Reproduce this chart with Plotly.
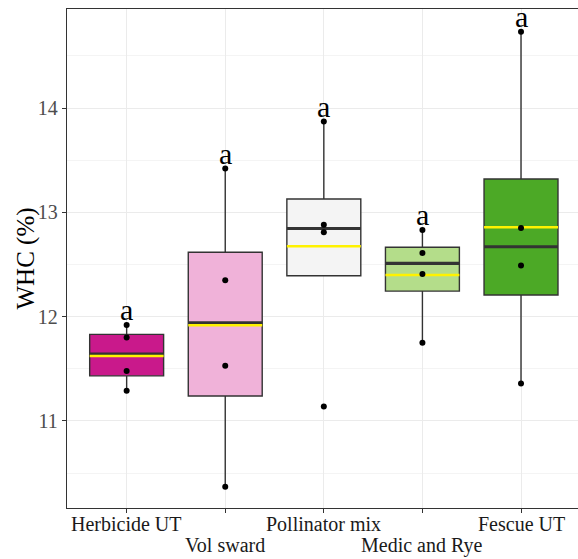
import numpy as np
import plotly.graph_objects as go

categories = ["Herbicide UT", "Vol sward", "Pollinator mix", "Medic and Rye", "Fescue UT"]
herbicide_ut = [11.29, 11.48, 11.80, 11.92]
vol_sward = [10.37, 11.53, 12.35, 13.42]
pollinator_mix = [11.14, 12.81, 12.88, 13.87]
medic_and_rye = [11.75, 12.41, 12.61, 12.83]
fescue_ut = [11.36, 12.49, 12.85, 14.73]
letters = ["a", "a", "a", "a", "a"]
fill_colors = ["#C9198B", "#F0B2D9", "#F4F4F4", "#B4DD8A", "#4CA926"]

series = [herbicide_ut, vol_sward, pollinator_mix, medic_and_rye, fescue_ut]

SERIF = "Liberation Serif, Times New Roman, serif"
HALF = 0.375

fig = go.Figure()

for i, (vals, col) in enumerate(zip(series, fill_colors)):
    v = np.array(vals)
    q1, med, q3 = np.percentile(v, [25, 50, 75])
    iqr = q3 - q1
    up = v[v <= q3 + 1.5 * iqr].max()
    lo = v[v >= q1 - 1.5 * iqr].min()
    up = max(up, q3)
    lo = min(lo, q1)
    fig.add_trace(go.Box(
        x=[i], q1=[q1], median=[med], q3=[q3],
        lowerfence=[lo], upperfence=[up],
        width=2 * HALF, whiskerwidth=0,
        fillcolor=col, line=dict(color="#333333", width=1.4),
        boxpoints=False, showlegend=False, hoverinfo="skip",
    ))
    # median (thick dark)
    fig.add_trace(go.Scatter(
        x=[i - HALF, i + HALF], y=[med, med], mode="lines",
        line=dict(color="#333333", width=3.2), showlegend=False, hoverinfo="skip"))
    # mean (yellow)
    mean = float(v.mean())
    fig.add_trace(go.Scatter(
        x=[i - HALF, i + HALF], y=[mean, mean], mode="lines",
        line=dict(color="#FFF200", width=2.6), showlegend=False, hoverinfo="skip"))
    # raw points
    fig.add_trace(go.Scatter(
        x=[i] * len(v), y=v, mode="markers",
        marker=dict(color="black", size=6), showlegend=False, hoverinfo="skip"))
    # letter
    fig.add_annotation(
        x=i, y=float(v.max()), xref="x", yref="y", text=letters[i],
        showarrow=False, yanchor="bottom", yshift=-3,
        font=dict(family=SERIF, size=30, color="black"))

# category labels (staggered in two rows)
for i, cat in enumerate(categories):
    fig.add_annotation(
        x=i, xref="x", y=0, yref="paper", text=cat, showarrow=False,
        yanchor="top", yshift=-3 if i % 2 == 0 else -24,
        font=dict(family=SERIF, size=20, color="#1a1a1a"))

# y-axis title
fig.add_annotation(
    x=-42 / 511, xref="paper", y=0.5, yref="paper", text="WHC (%)",
    textangle=-90, showarrow=False, xanchor="center", yanchor="middle",
    font=dict(family=SERIF, size=25, color="black"))

fig.update_layout(
    width=578, height=559,
    margin=dict(l=67, r=0, t=9, b=51),
    paper_bgcolor="white", plot_bgcolor="white",
    showlegend=False,
)
fig.update_xaxes(
    range=[-0.605, 4.578], tickvals=list(range(len(categories))),
    showticklabels=False, ticks="outside", ticklen=4, tickcolor="#333333",
    showgrid=True, gridcolor="#ebebeb", gridwidth=1,
    showline=True, linecolor="#333333", linewidth=1.3, mirror=True,
    zeroline=False,
)
fig.update_yaxes(
    range=[10.166, 14.949], tickvals=[11, 12, 13, 14],
    ticks="outside", ticklen=4, tickcolor="#333333",
    tickfont=dict(family=SERIF, size=20, color="#4d4d4d"),
    showgrid=True, gridcolor="#ebebeb", gridwidth=1,
    minor=dict(tickvals=[10.5, 11.5, 12.5, 13.5, 14.5], showgrid=True,
               gridcolor="#f4f4f4", gridwidth=1, ticks=""),
    showline=True, linecolor="#333333", linewidth=1.3, mirror=False,
    zeroline=False,
)

fig.write_html("out.html")
